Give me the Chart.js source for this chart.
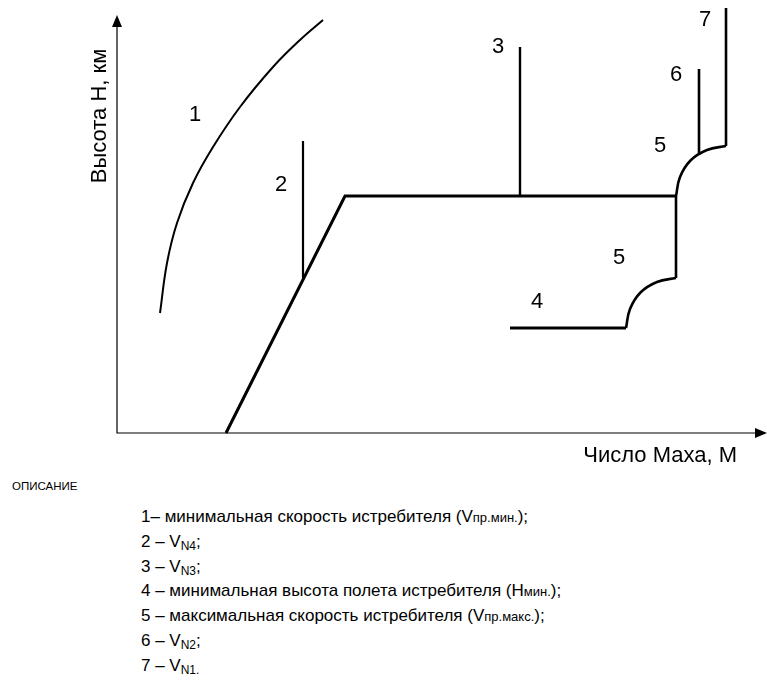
<!DOCTYPE html>
<html lang="ru">
<head>
<meta charset="utf-8">
<title>Высота Н — число Маха</title>
<script src="https://cdn.jsdelivr.net/npm/chart.js@4.4.0/dist/chart.umd.min.js"></script>
<style>
    body { margin: 0; background: #fff; font-family: "Liberation Sans", Arial, sans-serif; color: #000; }
    #wrap { position: relative; width: 767px; height: 680px; overflow: hidden; }
    #plot { position: absolute; left: 0; top: 0; }
    #caption { position: absolute; left: 12px; top: 480px; font-size: 11.5px; }
    #notes { position: absolute; left: 141px; top: 505px; font-size: 17px; line-height: 24.3px; white-space: nowrap; }
    #notes small { font-size: 13px; }
    #notes sub { font-size: 12px; vertical-align: -3px; line-height: 0; }
</style>
</head>
<body>
<div id="wrap">
    <canvas id="plot" width="767" height="470"></canvas>
    <div id="caption">ОПИСАНИЕ</div>
    <div id="notes">
        <div>1– минимальная скорость истребителя (V<small>пр.мин.</small>);</div>
        <div>2 – V<sub>N4</sub>;</div>
        <div>3 – V<sub>N3</sub>;</div>
        <div>4 – минимальная высота полета истребителя (Н<small>мин.</small>);</div>
        <div>5 – максимальная скорость истребителя (V<small>пр.макс.</small>);</div>
        <div>6 – V<sub>N2</sub>;</div>
        <div>7 – V<sub>N1.</sub></div>
    </div>
</div>

<script>
// границы осей (условные единицы)
const xMax = 13;
const yMax = 8.66;
const xArrowTip = 13;
const yArrowTip = 8.36;

// 1 — минимальная скорость
const curve1X = [0.86, 1.00, 1.20, 1.52, 1.92, 2.46, 3.12, 3.66, 4.12];
const curve1Y = [2.40, 3.40, 4.20, 5.00, 5.72, 6.52, 7.32, 7.86, 8.26];

// 2 — V N4
const line2X = [3.72, 3.72];
const line2Y = [3.10, 5.84];

// наклонная граница и горизонталь
const edgeX = [2.18, 4.56, 11.18];
const edgeY = [0, 4.74, 4.74];

// 3 — V N3
const line3X = [8.06, 8.06];
const line3Y = [4.74, 7.72];

// 4 — минимальная высота
const line4X = [7.86, 10.18];
const line4Y = [2.10, 2.10];

// 5 — максимальная скорость (нижняя дуга, вертикаль, верхняя дуга)
const arcLowX = [10.18, 10.26, 10.47, 10.80, 11.18];
const arcLowY = [2.10, 2.48, 2.81, 3.02, 3.10];
const line5X = [11.18, 11.18];
const line5Y = [3.10, 4.74];
const arcHighX = [11.18, 11.26, 11.47, 11.80, 12.18];
const arcHighY = [4.74, 5.12, 5.45, 5.66, 5.74];

// 6 — V N2
const line6X = [11.64, 11.64];
const line6Y = [5.58, 7.28];

// 7 — V N1
const line7X = [12.18, 12.18];
const line7Y = [5.74, 8.50];

// номера кривых
const markTexts = ['1', '2', '3', '4', '5', '5', '6', '7'];
const markX = [1.56, 3.28, 7.62, 8.40, 10.04, 10.86, 11.18, 11.76];
const markY = [6.36, 4.96, 7.72, 2.62, 3.50, 5.74, 7.16, 8.26];

const yTitle = 'Высота Н, км';
const xTitle = 'Число Маха, М';

const FONT = '"Liberation Sans", Arial, sans-serif';

function toPoints(xs, ys) {
    return xs.map((x, i) => ({ x: x, y: ys[i] }));
}

function lineSet(xs, ys, width, tension) {
    return {
        data: toPoints(xs, ys),
        showLine: true,
        borderColor: '#000',
        borderWidth: width,
        pointRadius: 0,
        tension: tension || 0,
        fill: false,
        clip: false
    };
}

// оси со стрелками и подписи
const axesPlugin = {
    id: 'axesPlugin',
    beforeDatasetsDraw(chart) {
        const ctx = chart.ctx;
        const sx = chart.scales.x;
        const sy = chart.scales.y;
        const x0 = sx.getPixelForValue(0);
        const y0 = sy.getPixelForValue(0);
        const xTip = sx.getPixelForValue(xArrowTip);
        const yTip = sy.getPixelForValue(yArrowTip);

        ctx.save();
        ctx.strokeStyle = '#000';
        ctx.fillStyle = '#000';
        ctx.lineWidth = 1.2;
        ctx.beginPath();
        ctx.moveTo(x0, yTip + 10);
        ctx.lineTo(x0, y0);
        ctx.lineTo(xTip - 8, y0);
        ctx.stroke();

        // стрелка оси Y
        ctx.beginPath();
        ctx.moveTo(x0, yTip);
        ctx.lineTo(x0 - 5, yTip + 12);
        ctx.lineTo(x0 + 5, yTip + 12);
        ctx.closePath();
        ctx.fill();

        // стрелка оси X
        ctx.beginPath();
        ctx.moveTo(xTip, y0);
        ctx.lineTo(xTip - 12, y0 - 5);
        ctx.lineTo(xTip - 12, y0 + 5);
        ctx.closePath();
        ctx.fill();

        ctx.font = '22px ' + FONT;
        ctx.textBaseline = 'middle';

        ctx.save();
        ctx.translate(x0 - 17, 116);
        ctx.rotate(-Math.PI / 2);
        ctx.textAlign = 'center';
        ctx.fillText(yTitle, 0, 0);
        ctx.restore();

        ctx.textAlign = 'right';
        ctx.fillText(xTitle, xTip - 30, y0 + 23);
        ctx.restore();
    },
    afterDatasetsDraw(chart) {
        const ctx = chart.ctx;
        const sx = chart.scales.x;
        const sy = chart.scales.y;
        ctx.save();
        ctx.fillStyle = '#000';
        ctx.font = '22px ' + FONT;
        ctx.textAlign = 'center';
        ctx.textBaseline = 'middle';
        markTexts.forEach((t, i) => {
            ctx.fillText(t, sx.getPixelForValue(markX[i]), sy.getPixelForValue(markY[i]));
        });
        ctx.restore();
    }
};

const ctx = document.getElementById('plot').getContext('2d');
new Chart(ctx, {
    type: 'scatter',
    data: {
        datasets: [
            lineSet(curve1X, curve1Y, 2, 0.4),
            lineSet(line2X, line2Y, 2.2),
            lineSet(edgeX, edgeY, 3),
            lineSet(line3X, line3Y, 2.4),
            lineSet(line4X, line4Y, 3),
            lineSet(arcLowX, arcLowY, 2.6, 0.4),
            lineSet(line5X, line5Y, 2.6),
            lineSet(arcHighX, arcHighY, 2.6, 0.4),
            lineSet(line6X, line6Y, 2.6),
            lineSet(line7X, line7Y, 2.6)
        ]
    },
    options: {
        responsive: false,
        animation: false,
        devicePixelRatio: 1,
        layout: { padding: { left: 117, right: 0, top: 0, bottom: 37 } },
        scales: {
            x: { type: 'linear', min: 0, max: xMax, display: false },
            y: { type: 'linear', min: 0, max: yMax, display: false }
        },
        plugins: {
            legend: { display: false },
            tooltip: { enabled: false }
        }
    },
    plugins: [axesPlugin]
});
</script>
</body>
</html>
